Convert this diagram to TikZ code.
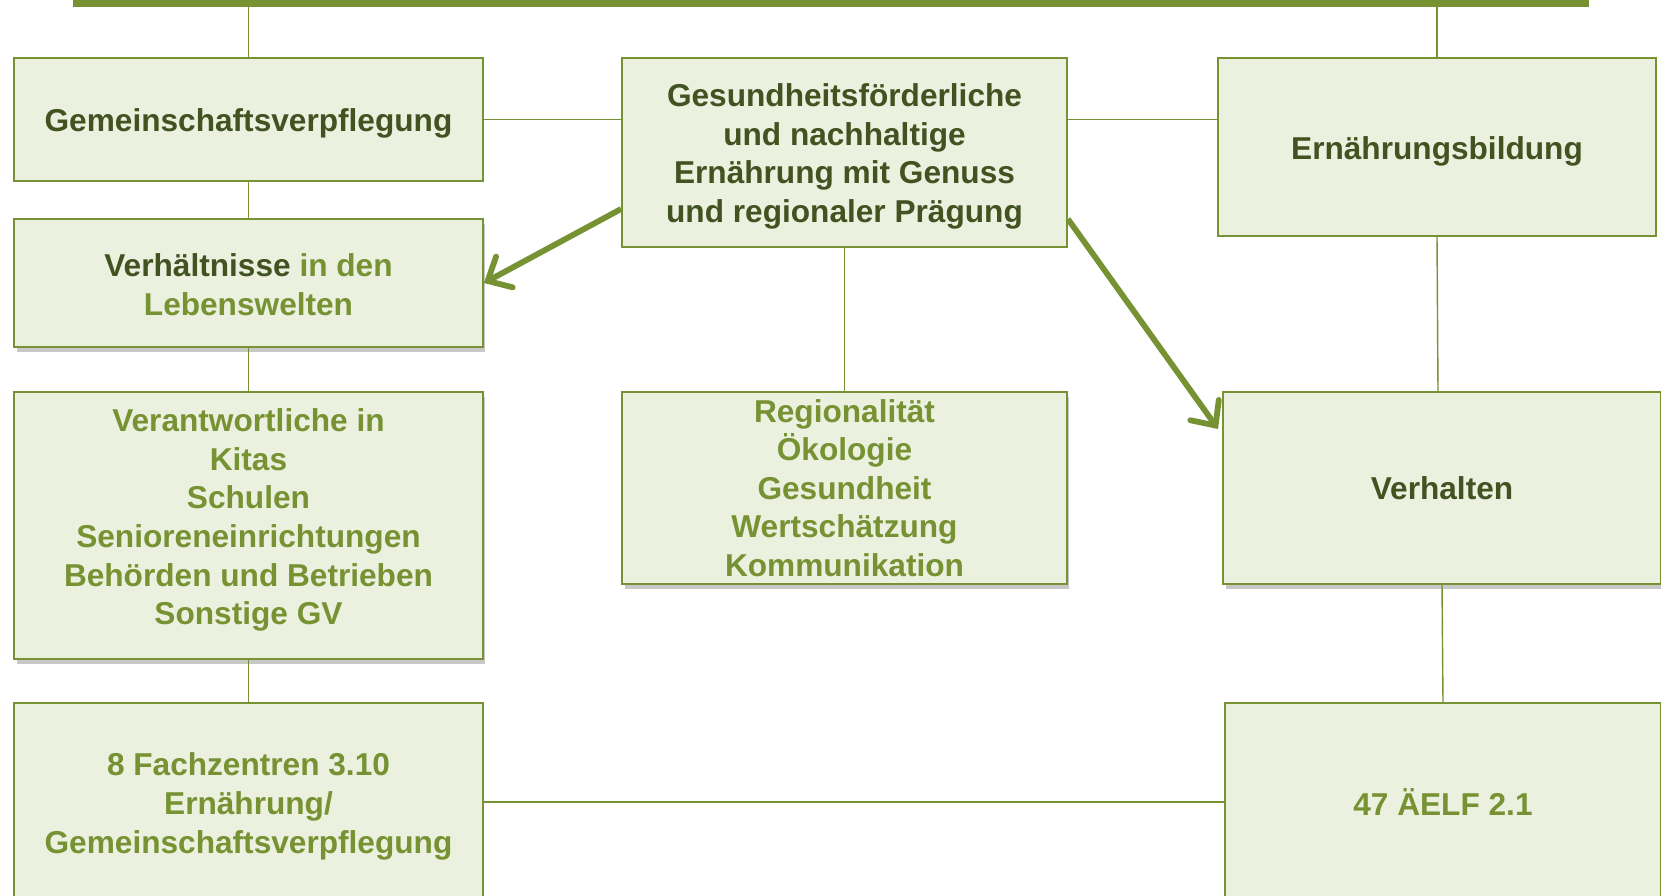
\documentclass[tikz,border=0pt]{standalone}
\usepackage{fontspec}
\setmainfont{Liberation Sans}
\usepackage{xcolor}
\usepackage{tikz}
\usetikzlibrary{arrows.meta,calc,shadows}
\definecolor{olivegreen}{RGB}{118,146,50}
\definecolor{olivedark}{RGB}{66,82,33}
\definecolor{olivelight}{RGB}{235,240,223}

\begin{document}
\begin{tikzpicture}[
      x=0.02cm, y=-0.02cm,
      font=\bfseries\fontsize{18}{22}\selectfont,
      box/.style={draw=olivegreen, line width=1.1pt, fill=olivelight,
        align=center, text=olivedark, inner sep=2pt},
      shbox/.style={box, drop shadow={shadow xshift=0.05cm,
        shadow yshift=-0.1cm, opacity=0.3, fill=black!70}},
      lowtext/.style={text height=17.7pt},
      link/.style={olivegreen, line width=0.8pt},
      arr/.style={olivegreen, line width=3.3pt,
        -{Straight Barb[length=0.38cm, width=0.7cm, line cap=round]}},
      grn/.style={text=olivegreen}
    ]
    \useasboundingbox (0,0) rectangle (1661,896);
    \clip (0,0) rectangle (1661,896);
    \fill[white] (0,0) rectangle (1661,896);

    \node[fill=olivegreen, minimum width=30.32cm, minimum height=0.26cm,
      inner sep=0pt] (bar) at (831,0) {};

    % left column
    \node[box, lowtext, minimum width=9.38cm, minimum height=2.46cm] (gem) at (248.5,119.5)
      {Gemeinschaftsverpflegung};
    \node[shbox, text height=37pt, minimum width=9.38cm, minimum height=2.56cm] (verh) at (248.5,283)
      {Verhältnisse \textcolor{olivegreen}{in den}\\\textcolor{olivegreen}{Lebenswelten}};
    \node[shbox, grn, text depth=10pt, minimum width=9.38cm, minimum height=5.34cm] (verant) at (248.5,525.5)
      {Verantwortliche in\\Kitas\\Schulen\\Senioreneinrichtungen\\Behörden und Betrieben\\Sonstige GV};
    \node[box, grn, text height=62pt, minimum width=9.38cm, minimum height=3.96cm] (fach) at (248.5,802)
      {8 Fachzentren 3.10\\Ernährung/\\Gemeinschaftsverpflegung};

    % middle column
    \node[box, text height=83.6pt, minimum width=8.9cm, minimum height=3.78cm] (gesund) at (844.5,152.5)
      {Gesundheitsförderliche\\und nachhaltige\\Ernährung mit Genuss\\und regionaler Prägung};
    \node[shbox, grn, minimum width=8.9cm, minimum height=3.84cm, inner sep=0pt] (region) at (844.5,488)
      {Regionalität\\Ökologie\\Gesundheit\\Wertschätzung\\Kommunikation};

    % right column
    \node[box, lowtext, minimum width=8.76cm, minimum height=3.56cm] (ernb) at (1437,147)
      {Ernährungsbildung};
    \node[shbox, minimum width=8.76cm, minimum height=3.84cm] (verhalten) at (1442,488)
      {Verhalten};
    \node[box, grn, minimum width=8.72cm, minimum height=3.96cm] (aelf) at (1443,802)
      {47 ÄELF 2.1};

    % connectors
    \draw[link] (gem.north) -- (gem.north |- bar.south);
    \draw[link] (ernb.north) -- (ernb.north |- bar.south);
    \draw[link] (gem.east) -- (gesund.west |- gem.east);
    \draw[link] (gesund.east |- gem.east) -- (ernb.west |- gem.east);
    \draw[link] (gem.south) -- (verh.north);
    \draw[link] (verh.south) -- (verant.north);
    \draw[link] (verant.south) -- (fach.north);
    \draw[link] (gesund.south) -- (region.north);
    \draw[link] (ernb.south) -- ($(verhalten.north -| ernb.south)+(1,0)$);
    \draw[link] (verhalten.south) -- (aelf.north);
    \draw[link] (fach.east) -- (aelf.west);

    \draw[arr] (gesund.west |- 0,209) -- (verh.east);
    \draw[arr] (gesund.east |- 0,219) -- ($(verhalten.west |- 0,429)+(-4,0)$);
  \end{tikzpicture}
\end{document}
